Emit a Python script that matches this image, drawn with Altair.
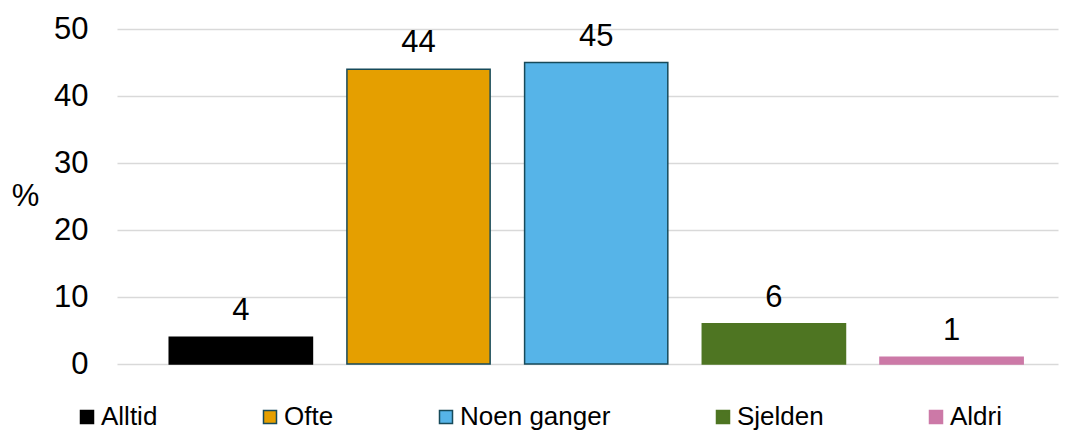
import altair as alt
import pandas as pd

categories = ["Alltid", "Ofte", "Noen ganger", "Sjelden", "Aldri"]
values = [4, 44, 45, 6, 1]
fills = ["#000000", "#E59F00", "#56B4E8", "#4E7522", "#CC79A7"]
strokes = ["#000000", "#174A5A", "#174A5A", "#4E7522", "#CC79A7"]
y_ticks = [0, 10, 20, 30, 40, 50]

FONT = "Liberation Sans"

df = pd.DataFrame({"kategori": categories, "prosent": values})

x = alt.X(
    "kategori:N",
    sort=categories,
    scale=alt.Scale(paddingInner=0.194, paddingOuter=0.245, align=0.6),
    axis=None,
)
y = alt.Y(
    "prosent:Q",
    scale=alt.Scale(domain=[0, 50], nice=False),
    axis=alt.Axis(
        values=y_ticks,
        title="%",
        titleAngle=0,
        titleX=-92,
        titleY=167.5,
        titleAlign="center",
        titleBaseline="middle",
        titleFontSize=31,
        titleFontWeight="normal",
        titleFont=FONT,
        titleColor="black",
        labelFontSize=31,
        labelFont=FONT,
        labelColor="black",
        labelPadding=29,
        ticks=False,
        tickSize=0,
        domain=False,
        grid=True,
        gridColor="#D9D9D9",
        gridWidth=1.5,
    ),
)

legend = alt.Legend(
    title=None,
    orient="none",
    legendX=-43,
    legendY=375,
    direction="horizontal",
    symbolType="square",
    symbolSize=169,
    symbolStrokeWidth=1.5,
    labelFontSize=26,
    labelFont=FONT,
    labelColor="black",
    labelOffset=1,
    columnPadding=99,
    padding=0,
)

bars = alt.Chart(df).mark_bar(strokeWidth=1.5).encode(
    x=x,
    y=y,
    fill=alt.Fill(
        "kategori:N",
        sort=categories,
        scale=alt.Scale(domain=categories, range=fills),
        legend=legend,
    ),
    stroke=alt.Stroke(
        "kategori:N",
        sort=categories,
        scale=alt.Scale(domain=categories, range=strokes),
        legend=legend,
    ),
)

labels = alt.Chart(df).mark_text(
    fontSize=31, font=FONT, baseline="alphabetic", dy=-17, color="black"
).encode(x=x, y=y, text="prosent:Q")

chart = (
    alt.layer(bars, labels)
    .properties(
        width=941,
        height=335,
        autosize=alt.AutoSizeParams(type="none"),
        padding={"left": 117, "top": 29, "right": 12, "bottom": 67},
    )
    .configure_view(stroke=None)
)

chart.save("out.html", embed_options={"renderer": "svg", "actions": False})
